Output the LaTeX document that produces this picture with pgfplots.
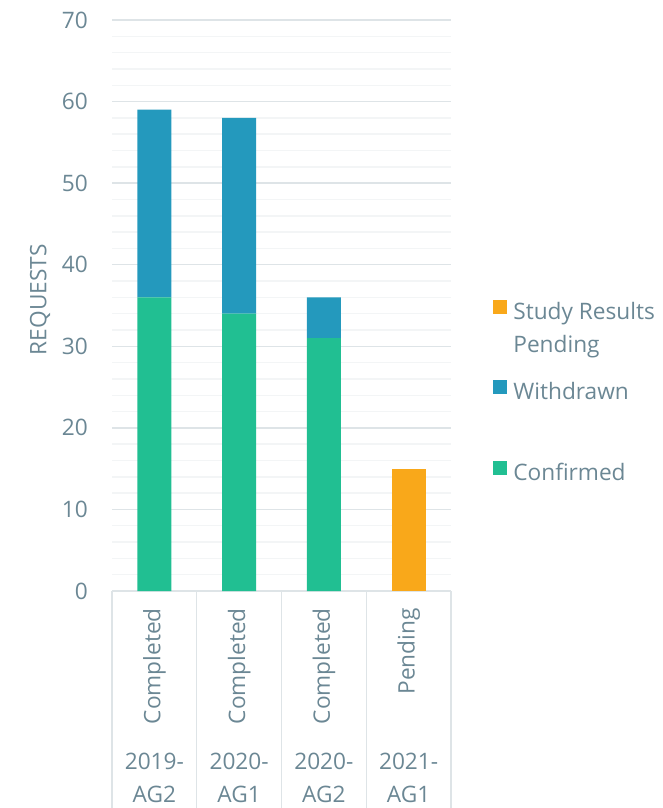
\documentclass[border=0pt]{standalone}
\usepackage{fontspec}
\setmainfont{Open Sans}
\usepackage{graphicx}
\usepackage{pgfplots}
\pgfplotsset{compat=1.18}
\definecolor{txt}{HTML}{6B8794}
\definecolor{gmaj}{HTML}{DEE4E7}
\definecolor{gmin}{HTML}{F3F5F6}
\definecolor{cConf}{HTML}{21BF92}
\definecolor{cWith}{HTML}{2499BD}
\definecolor{cPend}{HTML}{F9A81A}
\newcommand{\fs}{\fontsize{17}{24.5}\selectfont}
\begin{document}
\begin{tikzpicture}
\useasboundingbox (-84pt,-162.75pt) rectangle (412.5pt,443.25pt);
\begin{axis}[
  scale only axis, width=254.25pt, height=428.25pt,
  xmin=-0.5, xmax=3.5, ymin=0, ymax=70,
  ybar stacked, bar width=0.4,
  axis line style={draw=none},
  ytick={0,10,...,70}, minor y tick num=4,
  ymajorgrids, yminorgrids,
  major grid style={draw=gmaj, line width=1.1pt},
  minor grid style={draw=gmin, line width=1.1pt},
  xtick={0,1,2,3},
  xticklabels={\rotatebox{90}{Completed},\rotatebox{90}{Completed},\rotatebox{90}{Completed},\rotatebox{90}{Pending}},
  minor xtick={-0.5,0.5,1.5,2.5,3.5},
  xtick pos=bottom, tick align=outside,
  major tick length=0pt, minor tick length=162.75pt,
  ytick style={draw=none},
  minor x tick style={draw=gmaj, line width=1.1pt},
  tick label style={font=\fs, text=txt},
  xticklabel style={anchor=north, inner sep=0pt, yshift=-12.75pt},
  yticklabel style={anchor=east, inner sep=0pt, xshift=-18pt},
  /pgf/number format/assume math mode=true,
  extra x ticks={0,1,2,3},
  extra x tick labels={{2019-\\AG2},{2020-\\AG1},{2020-\\AG2},{2021-\\AG1}},
  extra x tick style={xticklabel style={align=center, yshift=-108.75pt}},
  ylabel={REQUESTS},
  ylabel style={at={(axis description cs:-0.2124,0.51)}, anchor=center, font=\fs, text=txt},
  legend style={at={(axis description cs:1.123,0.510)}, anchor=north west, draw=none, fill=none,
    inner sep=0pt, outer sep=0pt, font=\fs, text=txt, row sep=40.5pt, column sep=5pt,
    nodes={inner sep=0pt, text height=13pt, text depth=5pt}},
  legend cell align=left,
  legend image code/.code={\fill[#1,draw=none] (0pt,0.3pt) rectangle (10.5pt,10.8pt);},
  reverse legend,
]
\addplot[fill=cConf, draw=none] coordinates {(0,36) (1,34) (2,31) (3,0)};
\addlegendentry{Confirmed}
\addplot[fill=cWith, draw=none] coordinates {(0,23) (1,24) (2,5) (3,0)};
\addlegendentry{Withdrawn}
\addplot[fill=cPend, draw=none] coordinates {(0,0) (1,0) (2,0) (3,15)};
\addlegendentry{\begin{tabular}[t]{@{}l@{}}Study Results\\Pending\end{tabular}}
\end{axis}
\end{tikzpicture}
\end{document}
